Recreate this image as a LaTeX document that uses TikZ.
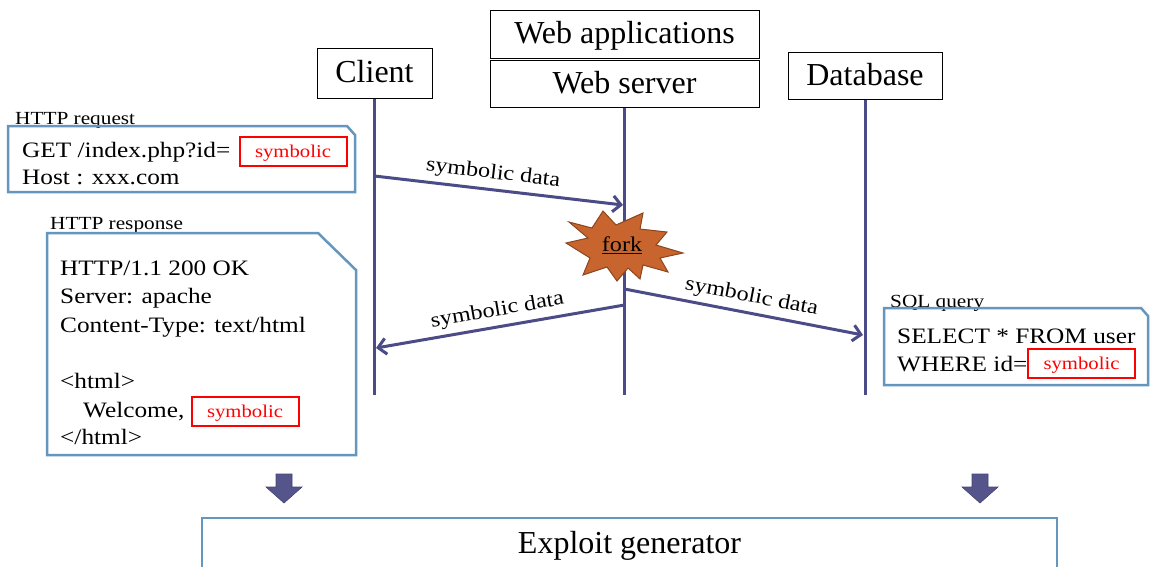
\documentclass[tikz,border=0pt]{standalone}
\usepackage{fontspec}
\setmainfont{Liberation Serif}
\newfontfamily\bodyf[FakeStretch=1.15]{Liberation Serif}
\usetikzlibrary{arrows.meta}
\definecolor{life}{RGB}{75,75,135}
\definecolor{boxblue}{RGB}{100,150,190}
\definecolor{blockarr}{RGB}{85,85,140}
\definecolor{forkfill}{RGB}{200,100,45}
\definecolor{forkdraw}{RGB}{140,70,30}
\tikzset{
  hdr/.style={draw, line width=1pt, inner sep=0pt, text depth=3pt, font=\fontsize{32}{36}\selectfont},
  lifeline/.style={draw=life, line width=3pt},
  msg/.style={draw=life, line width=3pt, -{Straight Barb[length=8pt,width=16pt]}},
  msglabel/.style={font=\bodyf\fontsize{21}{24}\selectfont, sloped, above, inner sep=5pt},
  note/.style={draw=boxblue, line width=2.5pt, line join=miter},
  smalllabel/.style={anchor=base west, inner sep=0pt, font=\bodyf\fontsize{18.5}{22}\selectfont},
  boxtext/.style={anchor=base west, inner sep=0pt, font=\bodyf\fontsize{22}{26}\selectfont},
  symb/.style={draw=red, line width=2pt, text=red, inner sep=0pt, text depth=0pt, minimum width=107pt, minimum height=29pt, font=\bodyf\fontsize{18}{22}\selectfont},
  blockarrow/.style={fill=blockarr, draw=blockarr!80!black, line width=0.6pt}
}
\begin{document}
\begin{tikzpicture}[x=1pt,y=-1pt]
\useasboundingbox (0,0) rectangle (1153,566);
\clip (0,0) rectangle (1153,566);
\fill[white] (0,0) rectangle (1153,566);

% headers
\node[hdr, minimum width=115pt, minimum height=50pt] (client) at (374.5,73) {Client};
\node[hdr, minimum width=269pt, minimum height=48pt] (webapp) at (624.5,34) {Web applications};
\node[hdr, minimum width=269pt, minimum height=47pt] (server) at (624.5,84) {Web server};
\node[hdr, minimum width=154pt, minimum height=47pt] (db) at (865,75.5) {Database};

% lifelines
\coordinate (cbot) at (374.5,395);
\coordinate (sbot) at (624.5,395);
\coordinate (dbot) at (865,395);
\draw[lifeline] (client.south) -- (cbot);
\draw[lifeline] (server.south) -- (sbot);
\draw[lifeline] (db.south) -- (dbot);

% message end points
\coordinate (m1s) at (374.5,176);
\coordinate (m1e) at (623,205);
\coordinate (m2s) at (624.5,305);
\coordinate (m2e) at (376,348);
\coordinate (m3s) at (624.5,289);
\coordinate (m3e) at (863,335);

\draw[msg] (m1s) -- node[msglabel, pos=0.47] {symbolic data} (m1e);
\draw[msg] (m2s) -- node[msglabel, pos=0.5] {symbolic data} (m2e);
\draw[msg] (m3s) -- node[msglabel, pos=0.52] {symbolic data} (m3e);

% fork star
\filldraw[fill=forkfill, draw=forkdraw, line width=1pt, line join=miter]
  (566,243) -- (588,238) -- (569,222) -- (592,228) -- (603,211) -- (616,225)
  -- (643,213) -- (640,229) -- (667,232) -- (656,245) -- (683,253)
  -- (660,258) -- (668,272) -- (643,265) -- (640,279) -- (628,268)
  -- (617,281) -- (607,267) -- (583,275) -- (590,258) -- cycle;
\node[inner sep=0pt, font=\bodyf\fontsize{21}{24}\selectfont] (fork) at (622,245) {\underline{fork}};

% HTTP request
\node[smalllabel] (reqlab) at (15,124) {HTTP request};
\draw[note] (8,126) -- (347,126) -- (355,135) -- (355,192) -- (8,192) -- cycle;
\node[boxtext] (req1) at (22,157) {GET /index.php?id=};
\node[boxtext] (req2) at (22,184) {Host : xxx.com};
\node[symb] (sym1) at (293,151.5) {symbolic};

% HTTP response
\node[smalllabel] (reslab) at (50,229) {HTTP response};
\draw[note] (47,233) -- (318,233) -- (356,270) -- (356,455) -- (47,455) -- cycle;
\node[boxtext] (r1) at (60,275) {HTTP/1.1 200 OK};
\node[boxtext] (r2) at (60,303) {Server: apache};
\node[boxtext] (r3) at (60,332) {Content-Type: text/html};
\node[boxtext] (r4) at (60,388) {<html>};
\node[boxtext] (r5) at (83,417) {Welcome,};
\node[boxtext] (r6) at (60,444) {</html>};
\node[symb] (sym2) at (245,411) {symbolic};

% SQL query
\node[smalllabel] (sqllab) at (890,307) {SQL query};
\draw[note] (884,308) -- (1141,308) -- (1148,316) -- (1148,385) -- (884,385) -- cycle;
\node[boxtext] (q1) at (897,343) {SELECT * FROM user};
\node[boxtext] (q2) at (897,371) {WHERE id=};
\node[symb] (sym3) at (1081.5,363) {symbolic};

% block arrows
\draw[blockarrow] (276,474) -- (292,474) -- (292,487) -- (302,487) -- (284,503) -- (266,487) -- (276,487) -- cycle;
\draw[blockarrow] (972,474) -- (988,474) -- (988,487) -- (998,487) -- (980,503) -- (962,487) -- (972,487) -- cycle;

% exploit generator
\node[draw=boxblue, line width=2.5pt, minimum width=855pt, minimum height=56pt, inner sep=0pt,
  font=\fontsize{32}{36}\selectfont] (gen) at (629.5,546) {Exploit generator};
\end{tikzpicture}
\end{document}
